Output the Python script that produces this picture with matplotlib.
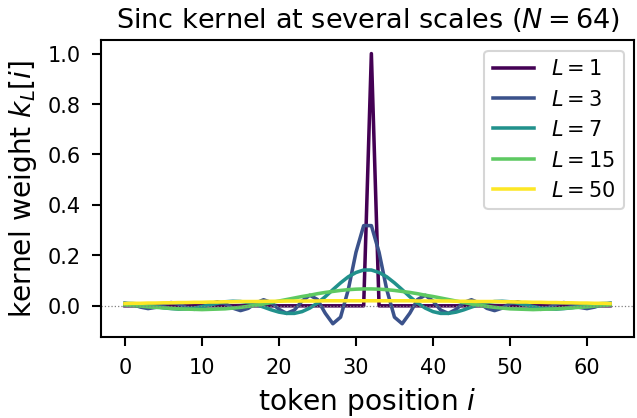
import matplotlib
matplotlib.use("Agg")
import matplotlib.pyplot as plt
import matplotlib.cm as cm

# token positions
positions = list(range(64))

# kernel weights, one list per scale
k_L1 = [0.0] * 32 + [1.0] + [0.0] * 31

k_L3 = [0.010, 0.005, -0.005, -0.011, -0.006, 0.006, 0.013, 0.007, -0.007, -0.014,
        -0.007, 0.008, 0.016, 0.009, -0.009, -0.019, -0.010, 0.011, 0.024, 0.013,
        -0.014, -0.030, -0.017, 0.019, 0.042, 0.025, -0.029, -0.071, -0.045, 0.064,
        0.212, 0.318,
        0.318, 0.212, 0.064, -0.045, -0.071, -0.029, 0.025, 0.042, 0.019, -0.017,
        -0.030, -0.014, 0.013, 0.024, 0.011, -0.010, -0.019, -0.009, 0.009, 0.016,
        0.008, -0.007, -0.014, -0.007, 0.007, 0.013, 0.006, -0.006, -0.011, -0.005,
        0.005, 0.010]

k_L7 = [0.010, 0.009, 0.007, 0.003, -0.003, -0.008, -0.011, -0.013, -0.012, -0.009,
        -0.003, 0.003, 0.010, 0.016, 0.018, 0.017, 0.013, 0.005, -0.005, -0.016,
        -0.025, -0.030, -0.030, -0.023, -0.009, 0.011, 0.036, 0.064, 0.091, 0.115,
        0.132, 0.142,
        0.142, 0.132, 0.115, 0.091, 0.064, 0.036, 0.011, -0.009, -0.023, -0.030,
        -0.030, -0.025, -0.016, -0.005, 0.005, 0.013, 0.017, 0.018, 0.016, 0.010,
        0.003, -0.003, -0.009, -0.012, -0.013, -0.011, -0.008, -0.003, 0.003, 0.007,
        0.009, 0.010]

k_L15 = [0.003, 0.001, -0.001, -0.004, -0.006, -0.008, -0.010, -0.012, -0.013, -0.014,
         -0.015, -0.014, -0.013, -0.012, -0.009, -0.006, -0.002, 0.002, 0.007, 0.013,
         0.019, 0.025, 0.031, 0.037, 0.042, 0.048, 0.053, 0.057, 0.061, 0.064,
         0.066, 0.067,
         0.067, 0.066, 0.064, 0.061, 0.057, 0.053, 0.048, 0.042, 0.037, 0.031,
         0.025, 0.019, 0.013, 0.007, 0.002, -0.002, -0.006, -0.009, -0.012, -0.013,
         -0.014, -0.015, -0.014, -0.013, -0.012, -0.010, -0.008, -0.006, -0.004, -0.001,
         0.001, 0.003]

k_L50 = [0.009, 0.010, 0.010, 0.011, 0.011, 0.012, 0.012, 0.013, 0.013, 0.014,
         0.014, 0.015, 0.015, 0.016, 0.016, 0.017, 0.017, 0.017, 0.018, 0.018,
         0.018, 0.019, 0.019, 0.019, 0.019, 0.019, 0.020, 0.020, 0.020, 0.020,
         0.020, 0.020,
         0.020, 0.020, 0.020, 0.020, 0.020, 0.020, 0.019, 0.019, 0.019, 0.019,
         0.019, 0.018, 0.018, 0.018, 0.017, 0.017, 0.017, 0.016, 0.016, 0.015,
         0.015, 0.014, 0.014, 0.013, 0.013, 0.012, 0.012, 0.011, 0.011, 0.010,
         0.010, 0.009]

scales = [1, 3, 7, 15, 50]
kernels = [k_L1, k_L3, k_L7, k_L15, k_L50]


def main():
    plt.rcParams.update({
        "axes.linewidth": 1.0,
        "xtick.major.size": 4.5, "ytick.major.size": 4.5,
        "xtick.major.width": 1.0, "ytick.major.width": 1.0,
        "xtick.major.pad": 5, "ytick.major.pad": 5,
        "xtick.labelsize": 10, "ytick.labelsize": 10,
    })
    fig, ax = plt.subplots(figsize=(4.25, 2.79), dpi=150)
    fig.subplots_adjust(left=0.158, right=0.995, top=0.903, bottom=0.193)

    colors = cm.viridis([0.0, 0.25, 0.5, 0.75, 1.0])
    for L, k, c in zip(scales, kernels, colors):
        ax.plot(positions, k, color=c, lw=1.7, label=f"$L={L}$")

    ax.axhline(0, color="gray", ls=":", lw=0.6)
    ax.set_title("Sinc kernel at several scales ($N=64$)", fontsize=13)
    ax.set_xlabel("token position $i$", fontsize=13.5)
    ax.set_ylabel("kernel weight $k_L[i]$", fontsize=13.5)
    ax.legend(loc="upper right", fontsize=10)

    fig.savefig("out.png", dpi=150)


if __name__ == "__main__":
    main()
